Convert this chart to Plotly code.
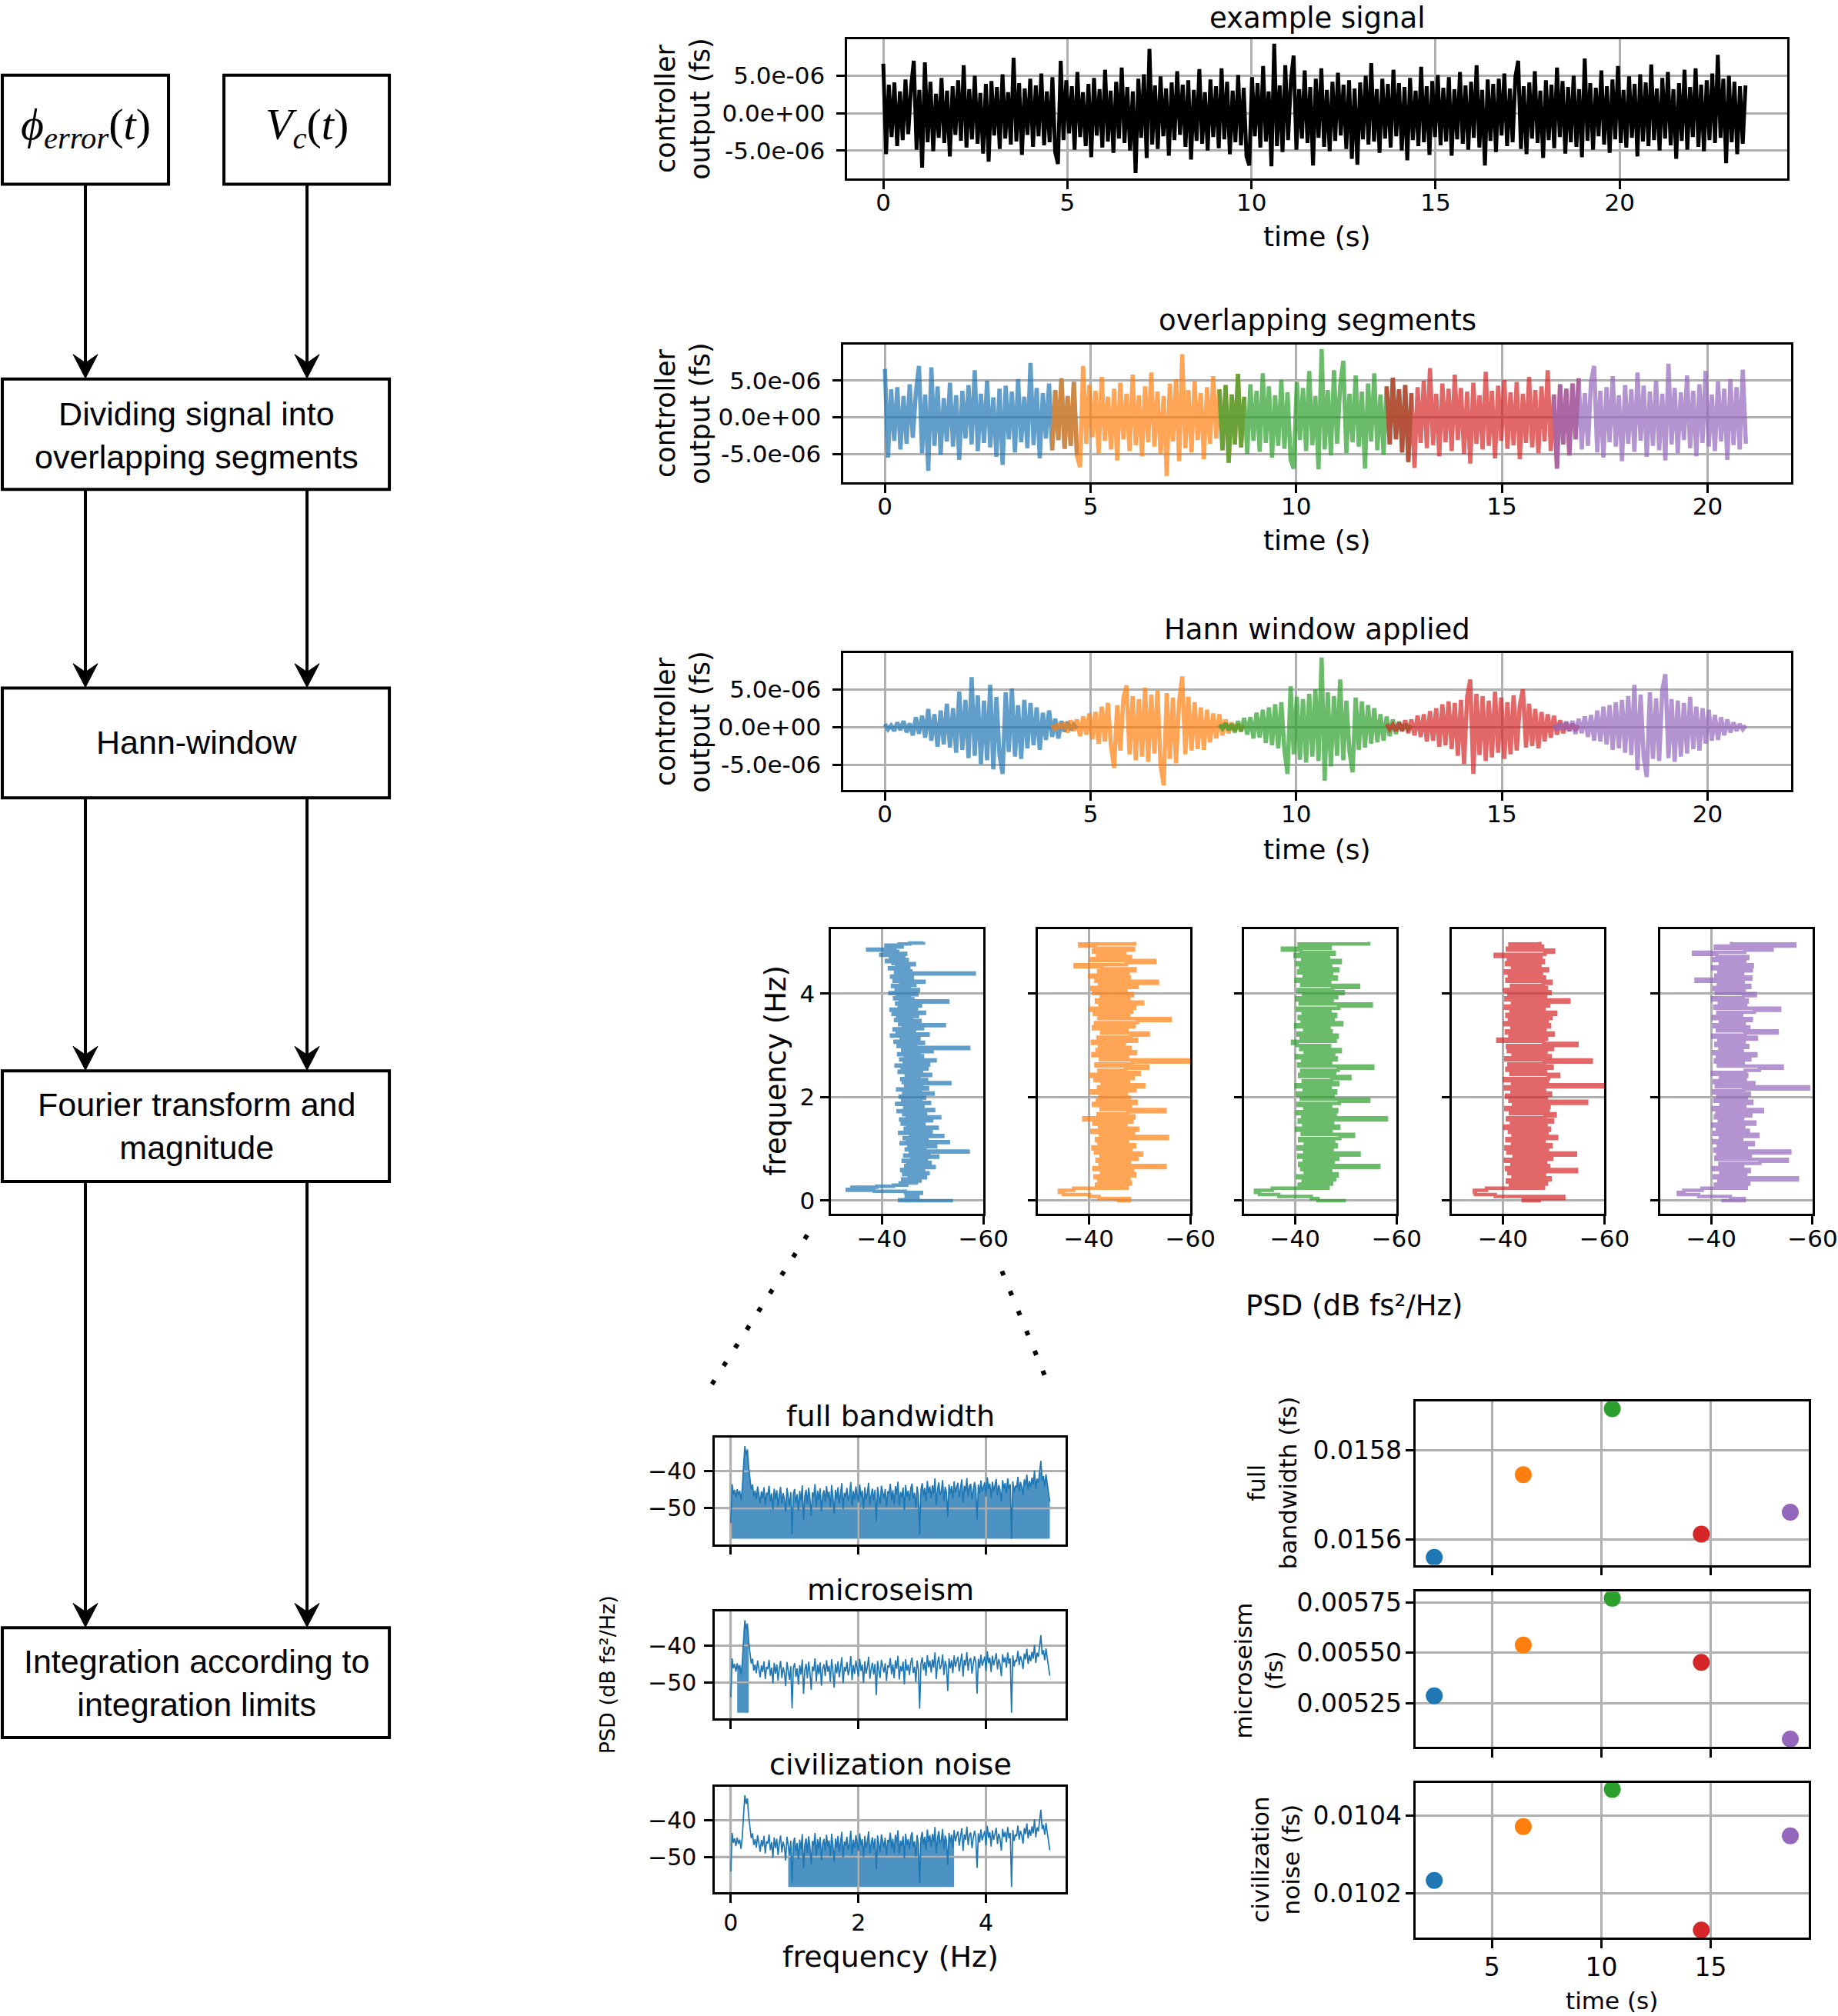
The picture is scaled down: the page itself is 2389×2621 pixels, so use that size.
import numpy as np
import plotly.graph_objects as go

W, H = 2389, 2621
X_SCALE = 0.986   # measured horizontal compression of the rendered page, compensated below

# ---------------- data ----------------
dt = 0.0753          # sample spacing of the controller output (s)
seg_step = 54        # samples between segment starts
seg_len = 63         # samples per segment

# example controller output, units of 1e-6 fs
example_signal = [
    6.6, -5.5, 3.8, -3.2, 4.1, -4.4, 2.9, -3.6, 4.5, -2.8, 3.4, 7.0, -4.9, 3.1, -7.3, 6.8, -3.9, 4.2, -5.1, 2.6,
    -3.3, 4.7, -4.0, 3.0, -5.8, 3.6, -2.9, 4.4, -3.7, 6.4, -4.6, 3.2, -3.5, 5.0, -4.1, 2.7, -5.4, 3.9, -6.5, 4.3,
    -3.0, 3.5, -4.8, 5.2, -3.4, 2.8, -4.2, 7.4, -3.8, 4.0, -5.6, 3.3, -2.9, 4.6, -4.5, 3.7, -3.1, 5.3, -4.3, 2.9,
    -3.9, 4.8, -5.2, -6.8, 7.0, -3.6, 4.4, -2.7, 3.6, -4.9, 5.5, -3.2, 2.8, -4.4, 3.9, -5.9, 4.7, -3.0, 3.2, -4.6,
    5.8, -3.8, 3.0, -5.3, 4.2, -3.4, 6.1, -4.0, 3.5, -5.0, 2.9, -8.0, 4.6, -3.3, 5.2, -6.0, 8.6, -4.2, 3.7, -4.8,
    4.9, -3.1, 3.3, -5.7, 4.1, -3.6, 5.6, -2.9, 3.8, -4.5, 4.4, -6.2, 3.1, -3.7, 5.9, -4.1, 2.8, -5.0, 4.5, -3.2,
    3.6, -4.7, 6.0, -3.5, 4.2, -5.5, 3.0, -3.9, 5.1, -4.3, 3.4, -5.8, -7.0, 4.8, -3.1, 4.0, -4.6, 6.3, -3.8, 2.9,
    -7.1, 9.3, -4.4, 3.7, -5.2, 6.4, -3.6, 4.3, 7.7, -4.9, 3.2, -3.4, 5.7, -4.0, 3.5, -7.0, 4.6, -3.3, 6.0, -4.5,
    3.1, -5.1, 4.2, -3.7, 5.4, -3.0, 3.8, -4.8, 4.4, -6.1, 3.3, -6.9, 4.1, -3.5, 5.0, -4.2, 6.7, -3.8, 3.2, -5.3,
    4.6, -3.4, 3.9, -4.6, 5.8, -3.1, 4.0, -5.0, 3.5, -6.3, 4.7, -3.6, 3.0, -4.4, 6.2, -3.9, 3.6, -5.6, 4.3, -3.2,
    5.1, -4.3, 3.4, -3.8, 4.8, -5.7, 3.2, -3.5, 5.5, -4.1, 3.7, -4.9, 4.2, -3.3, 6.4, -4.6, 3.1, -7.0, 4.5, -3.7,
    3.9, -5.2, 4.6, -3.0, 5.3, -4.4, 3.3, -3.9, 4.9, 7.0, -4.8, 3.6, -5.5, 4.1, -3.4, 5.6, -4.0, 3.0, -6.0, 4.4,
    -3.6, 3.8, -4.7, 6.1, -3.2, 4.3, -5.4, 3.5, -3.9, 5.0, -4.5, 3.2, -5.9, 7.3, -3.7, 4.0, -4.9, 3.4, -3.1, 5.7,
    -4.2, 3.6, -5.3, 4.5, -3.5, 6.3, -4.0, 3.1, -4.6, 4.9, -3.3, 3.9, -5.8, 5.2, -3.8, 4.1, -4.4, 6.5, -3.6, 3.3,
    -5.0, 4.7, -3.4, 5.5, -4.3, 3.2, -6.1, 4.0, -3.7, 5.8, -4.9, 3.5, -3.2, 6.0, -4.5, 3.8, -5.1, 4.4, -3.6, 5.3,
    -4.0, 7.8, -3.3, 4.6, -6.7, 5.0, -3.9, 4.2, -5.5, 3.6, -4.1, 3.7,
]

# Hann-windowed segments, units of 1e-6 fs
hann_seg_1 = [
    0.4, -0.3, 0.2, -0.5, 0.6, -0.4, 0.8, -0.7, 0.5, -1.1, 1.3, -0.9, 1.5, -1.4, 2.4, -1.8, 1.7, -2.6, 2.2, -2.3, 3.1,
    -2.7, 2.5, -3.4, 4.7, -3.0, 3.6, -4.1, 6.6, -3.8, 4.2, -4.9, 3.5, -4.4, 5.6, -5.6, 4.0, -3.7, -6.2, 4.6, -3.3,
    5.1, -3.9, 2.9, -4.2, 3.6, -2.8, 3.2, -2.4, 2.6, -3.0, 1.9, -1.7, 2.2, -1.3, 1.1, -1.5, 0.8, -0.6, 0.7, -0.4, 0.3, -0.2,
]
hann_seg_2 = [
    0.3, -0.4, 0.5, -0.2, 0.6, -0.7, 0.9, -0.5, 1.0, -1.2, 1.4, -1.0, 1.8, -1.6, 2.0, -2.2, 2.7, -1.9, 3.2, -2.5, -5.4,
    2.9, -3.1, 3.8, 5.5, -3.6, 4.1, -4.4, 3.7, -3.9, 5.2, -4.6, 4.3, -3.5, 4.8, -5.0, -7.7, 4.5, -4.2, 3.9, -4.8,
    3.4, 6.7, -3.6, 4.0, -3.1, 3.3, -2.9, 2.6, -3.0, 2.3, -2.0, 1.8, -1.5, 1.7, -1.1, 1.0, -0.8, 0.6, -0.5, 0.4, -0.3, 0.2,
]
hann_seg_3 = [
    0.3, -0.2, 0.5, -0.4, 0.4, -0.7, 0.8, -0.6, 1.2, -1.0, 1.3, -1.5, 1.9, -1.4, 2.3, -2.1, 2.6, -2.4, 3.0, -2.8, 3.3,
    -3.1, -6.2, 5.4, -3.6, 4.0, -4.3, 3.7, -4.7, 4.4, -3.9, 5.0, -4.5, 9.2, -7.1, 4.6, -5.2, 4.1, -3.8, 6.3, -4.4,
    3.5, -3.2, -6.0, 3.9, -3.0, 3.4, -2.7, 2.9, -2.2, 2.5, -2.0, 1.7, -1.8, 1.4, -1.2, 1.0, -0.9, 0.7, -0.5, 0.4, -0.3, 0.2,
]
hann_seg_4 = [
    0.4, -0.3, 0.3, -0.5, 0.6, -0.5, 0.9, -0.8, 1.0, -1.1, 1.5, -1.3, 1.7, -1.9, 2.1, -1.8, 2.5, -2.6, 3.0, -2.4, 3.4,
    -2.9, 3.2, -3.8, 3.6, -4.9, 4.0, 6.3, -6.2, 4.4, -3.7, 4.1, -4.5, 3.5, -4.0, 4.7, -3.4, 3.9, -4.2, 3.3, -3.6,
    4.2, -3.1, 2.9, 5.0, -2.7, 3.1, -2.5, 2.4, -2.8, 2.0, -1.9, 1.7, -1.4, 1.5, -1.0, 0.9, -0.8, 0.6, -0.5, 0.4, -0.3, 0.2,
]
hann_seg_5 = [
    0.3, -0.4, 0.5, -0.3, 0.7, -0.5, 0.8, -0.9, 1.1, -0.8, 1.4, -1.3, 1.6, -1.8, 2.2, -1.9, 2.7, -2.3, 2.9, -3.0, 3.3,
    -2.8, 3.6, -3.4, 4.1, -3.7, 5.6, -5.7, 4.3, -4.0, -6.6, 4.6, -4.2, 3.8, -4.5, 4.9, 7.0, -4.1, 3.7, -4.6, 3.5,
    -3.9, 3.2, -3.5, 4.0, -2.9, 2.7, -3.1, 2.5, -2.2, 2.3, -1.8, 1.6, -1.7, 1.3, -1.1, 1.0, -0.7, 0.6, -0.5, 0.4, -0.3, 0.2,
]
hann_segments = [hann_seg_1, hann_seg_2, hann_seg_3, hann_seg_4, hann_seg_5]

# PSD of segment 1 (dB fs^2/Hz), frequency step 0.02 Hz from 0 to 5 Hz
psd_df_fine = 0.02
psd_seg_1 = [
    -54.0, -43.5, -46.2, -45.0, -47.1, -44.8, -46.5, -45.3, -47.8, -44.6, -38.5, -33.2, -35.6, -34.1, -39.0, -42.3, -44.9, -43.6, -46.8, -45.2, -47.5, -44.1, -46.9, -48.6, -45.4,
    -47.2, -44.3, -49.1, -45.8, -46.4, -43.9, -48.2, -46.0, -50.3, -44.7, -47.6, -45.1, -49.5, -46.3, -44.2, -48.8, -45.9, -47.4, -51.0, -44.5, -46.7, -49.3, -45.6, -57.0, -46.1,
    -44.8, -48.5, -46.2, -50.6, -45.3, -47.9, -43.8, -53.1, -46.6, -45.0, -48.9, -44.4, -47.3, -52.0, -45.7, -46.9, -43.5, -49.7, -45.2, -47.8, -44.6, -50.9, -46.4, -45.1, -48.3,
    -44.0, -47.1, -45.5, -49.8, -43.7, -46.8, -51.4, -45.0, -47.5, -44.3, -48.6, -46.1, -43.2, -50.2, -45.8, -47.0, -44.5, -48.1, -46.5, -42.9, -49.4, -45.3, -47.7, -44.1, -46.3,
    -48.4, -43.6, -46.9, -45.2, -50.1, -44.3, -47.6, -45.8, -43.1, -49.0, -46.2, -44.7, -47.9, -45.0, -53.4, -44.2, -46.6, -48.8, -43.9, -45.7, -47.3, -44.8, -49.6, -45.4, -46.0,
    -43.4, -47.8, -45.1, -48.9, -44.0, -46.3, -42.8, -49.2, -45.6, -47.0, -44.4, -50.5, -43.7, -46.8, -45.2, -48.0, -44.6, -43.3, -47.4, -45.8, -49.9, -44.1, -46.5, -57.1, -45.0,
    -43.2, -46.7, -44.5, -48.2, -42.6, -45.9, -44.1, -47.3, -43.8, -46.0, -41.9, -49.1, -44.8, -43.0, -46.4, -45.3, -42.4, -48.0, -44.2, -45.6, -52.3, -43.5, -46.2, -44.0, -47.5,
    -42.7, -45.8, -44.3, -43.1, -47.0, -44.6, -42.2, -48.4, -43.9, -45.4, -41.8, -46.8, -44.0, -43.4, -47.6, -45.0, -42.9, -44.7, -53.0, -43.6, -46.1, -42.5, -45.5, -44.2, -43.0,
    -46.9, -41.6, -44.8, -43.3, -47.2, -42.8, -45.4, -44.0, -42.1, -46.5, -43.7, -45.1, -48.3, -42.4, -44.6, -43.2, -46.0, -41.9, -44.9, -43.5, -58.2, -42.7, -45.7, -43.9, -44.4,
    -41.5, -45.3, -42.9, -44.1, -46.4, -42.2, -43.8, -40.9, -45.0, -42.6, -44.3, -41.7, -43.6, -39.8, -44.7, -42.0, -43.1, -40.6, -37.2, -42.5, -41.3, -44.0, -40.8, -43.4, -45.5, -48.2,
]

# PSDs of segments 2-5, frequency step 0.04 Hz from 0 to 5 Hz
psd_df_coarse = 0.04
psd_seg_2 = [
    -45.5, -48.0, -42.0, -40.2, -35.0, -34.2, -37.0, -47.5, -41.5, -48.2, -42.0, -47.9, -41.2, -49.0, -42.5, -48.6, -41.0, -55.0, -42.2, -48.0, -41.6, -49.5, -42.4, -50.4, -41.3,
    -48.3, -40.8, -49.0, -42.0, -47.6, -41.5, -55.5, -42.3, -48.8, -40.6, -49.6, -42.1, -47.3, -41.0, -48.5, -39.0, -48.9, -41.8, -47.7, -55.0, -42.4, -48.2, -40.9, -49.3, -41.7,
    -48.0, -42.2, -47.4, -40.5, -49.1, -41.9, -50.8, -42.6, -47.8, -41.2, -48.7, -40.4, -49.9, -42.0, -47.2, -51.6, -41.4, -48.5, -60.0, -42.3, -47.6, -40.8, -49.2, -41.6, -48.1,
    -42.1, -47.0, -40.7, -49.4, -41.8, -48.3, -51.7, -42.5, -47.5, -40.9, -48.9, -41.3, -49.6, -56.0, -42.0, -47.8, -41.1, -48.4, -40.3, -49.0, -42.2, -50.6, -41.5, -47.9, -42.4,
    -48.6, -41.0, -47.3, -40.6, -49.5, -42.1, -53.5, -41.4, -48.0, -40.2, -47.7, -41.9, -49.1, -42.6, -37.3, -47.4, -53.0, -40.5, -48.2, -41.7, -47.1, -40.9, -48.8, -41.2, -38.2, -49.0,
]
psd_seg_3 = [
    -50.0, -44.5, -43.2, -36.8, -33.0, -32.2, -35.5, -46.5, -40.8, -47.2, -41.6, -47.8, -40.5, -48.3, -42.0, -47.0, -41.3, -56.5, -40.9, -47.5, -41.8, -48.4, -40.7, -52.6, -41.9,
    -47.3, -40.6, -48.1, -42.0, -47.6, -40.9, -48.8, -51.5, -41.4, -47.1, -40.3, -48.6, -41.7, -47.4, -40.8, -58.0, -41.5, -47.9, -40.4, -48.2, -41.9, -47.0, -40.6, -48.7, -54.5,
    -41.2, -47.5, -40.5, -48.0, -41.8, -46.9, -40.2, -48.4, -41.6, -47.2, -50.8, -40.9, -47.8, -41.3, -48.5, -55.3, -40.7, -47.0, -41.5, -48.1, -40.3, -47.6, -42.0, -48.9, -41.1,
    -46.8, -40.4, -39.5, -47.9, -41.2, -48.3, -40.6, -47.1, -41.9, -46.7, -40.1, -49.2, -41.4, -47.5, -40.8, -48.0, -41.6, -46.9, -40.5, -48.6, -55.0, -41.0, -47.3, -40.3, -48.2,
    -41.7, -49.5, -40.6, -47.4, -52.5, -41.3, -46.8, -40.2, -48.1, -41.8, -47.2, -40.7, -48.4, -41.1, -47.0, -40.4, -48.9, -41.5, -46.6, -40.0, -47.7, -41.2, -37.5, -46.9, -40.8, -54.5,
]
psd_seg_4 = [
    -47.5, -44.0, -52.0, -38.5, -34.6, -34.4, -36.8, -48.0, -41.5, -48.6, -40.9, -49.3, -42.0, -48.2, -41.2, -54.5, -40.7, -49.0, -41.8, -48.4, -40.5, -49.6, -42.2, -54.3, -41.0,
    -48.8, -40.6, -49.5, -41.9, -48.1, -40.8, -50.6, -42.0, -48.7, -41.3, -49.2, -40.4, -48.5, -41.7, -49.8, -40.9, -48.3, -50.3, -41.5, -48.9, -40.6, -49.1, -42.1, -56.5, -41.4,
    -48.6, -40.7, -49.4, -41.8, -48.2, -40.5, -60.0, -41.9, -48.8, -40.3, -49.0, -51.0, -41.6, -48.4, -40.8, -49.7, -41.2, -48.1, -57.4, -40.6, -49.3, -42.0, -48.5, -41.1, -49.8,
    -40.9, -54.6, -48.0, -39.0, -48.6, -41.4, -49.9, -40.7, -48.3, -41.8, -49.2, -40.4, -48.7, -41.3, -49.5, -40.8, -50.4, -41.6, -48.1, -40.5, -49.0, -41.9, -53.0, -40.6, -48.4,
    -41.2, -49.3, -40.4, -48.6, -41.7, -47.9, -49.5, -40.8, -48.2, -41.3, -47.6, -40.5, -48.8, -41.9, -47.3, -40.7, -48.0, -41.1, -47.5, -38.5, -48.3, -50.0, -40.9, -47.8, -41.4, -47.3,
]
psd_seg_5 = [
    -42.0, -46.5, -43.8, -37.5, -33.5, -34.6, -38.2, -46.9, -40.8, -47.4, -41.5, -57.0, -40.6, -46.8, -41.9, -47.5, -40.4, -46.2, -41.7, -49.6, -55.0, -40.9, -47.7, -41.3, -55.5,
    -40.7, -46.9, -41.4, -48.3, -40.5, -46.0, -41.8, -49.2, -40.6, -47.3, -41.2, -46.4, -40.3, -48.6, -41.6, -46.2, -40.8, -47.8, -41.1, -50.1, -40.4, -46.6, -41.9, -48.0, -40.7,
    -46.9, -41.3, -47.5, -40.5, -46.4, -59.2, -41.0, -48.4, -40.6, -46.7, -41.8, -47.0, -40.2, -46.7, -49.5, -54.0, -41.4, -46.3, -40.8, -47.6, -41.2, -48.8, -40.5, -46.1, -41.7,
    -47.2, -40.9, -46.5, -41.5, -48.9, -40.3, -46.7, -53.0, -41.2, -47.4, -40.6, -46.5, -41.8, -47.9, -40.4, -46.0, -41.3, -48.5, -53.5, -40.7, -46.8, -41.6, -47.1, -40.2, -46.3,
    -48.7, -41.0, -46.5, -40.6, -47.6, -41.4, -46.3, -37.0, -47.8, -40.9, -46.2, -41.5, -47.9, -40.3, -48.1, -41.8, -46.6, -40.5, -47.2, -41.1, -36.5, -46.6, -52.0, -40.8, -56.5, -44.0,
]

# integration limits (Hz)
band_limits = {"full bandwidth": (0.0, 5.0), "microseism": (0.1, 0.285), "civilization noise": (0.9, 3.5)}

# integrated noise per segment
segment_center_t = [2.36, 6.43, 10.50, 14.57, 18.64]
noise_full = [0.015560, 0.015745, 0.015893, 0.015612, 0.015661]
noise_micro = [0.005286, 0.005538, 0.005770, 0.005452, 0.005072]
noise_civ = [0.010233, 0.010372, 0.010468, 0.010105, 0.010348]

flow_steps = ["Dividing signal into<br>overlapping segments", "Hann-window",
              "Fourier transform and<br>magnitude", "Integration according to<br>integration limits"]

tab = ["#1f77b4", "#ff7f0e", "#2ca02c", "#d62728", "#9467bd"]

# ---------------- helpers ----------------
def fx(px):
    return min(1.0, max(0.0, px / (W * X_SCALE)))


def fy(py):
    return 1 - py / H


fig = go.Figure()
layout_axes = {}
FONT = "DejaVu Sans"


def axname(n):
    return ("x" if n == 1 else f"x{n}"), ("y" if n == 1 else f"y{n}")


def add_axes(n, box, xr, yr, xt, xtt, yt, ytt, showx=True, showy=True, fsize=31, xso=0, yso=4):
    x0, x1, yt0, yb = box
    common = dict(showline=True, mirror=True, linecolor="black", linewidth=2.5,
                  ticks="outside", ticklen=11, tickwidth=2.5, tickcolor="black",
                  showgrid=True, gridcolor="#b0b0b0", gridwidth=2.5, zeroline=False,
                  tickfont=dict(family=FONT, size=fsize, color="black"), fixedrange=True)
    xn, yn = axname(n)
    layout_axes["xaxis" if n == 1 else f"xaxis{n}"] = dict(
        domain=[fx(x0), fx(x1)], anchor=yn, range=xr, tickmode="array", tickvals=xt, ticktext=xtt,
        showticklabels=showx, ticklabelstandoff=xso, **common)
    layout_axes["yaxis" if n == 1 else f"yaxis{n}"] = dict(
        domain=[fy(yb), fy(yt0)], anchor=xn, range=yr, tickmode="array", tickvals=yt, ticktext=ytt,
        showticklabels=showy, ticklabelstandoff=yso, **common)


sig = np.array(example_signal) * 1e-6
t = np.arange(len(sig)) * dt

ts_xt = [0, 5, 10, 15, 20]
ts_xtt = ["0", "5", "10", "15", "20"]
ts_yt = [-5e-6, 0, 5e-6]
ts_ytt = ["-5.0e-06", "0.0e+00", "5.0e-06"]
TS_W = 5.5

# panel 1: example signal
add_axes(1, (1101, 2323, 45, 227), [-0.98, 24.56], [-8.78e-6, 9.9e-6], ts_xt, ts_xtt, ts_yt, ts_ytt,
         xso=-9, yso=9)
fig.add_trace(go.Scatter(x=t, y=sig, mode="lines", line=dict(color="black", width=TS_W - 0.5),
                         xaxis="x", yaxis="y"))

# panel 2: overlapping segments
add_axes(2, (1096, 2328, 443, 623), [-1.01, 22.04], [-8.9e-6, 9.93e-6], ts_xt, ts_xtt, ts_yt, ts_ytt,
         xso=-9, yso=9)
for k in range(5):
    s = slice(k * seg_step, k * seg_step + seg_len)
    fig.add_trace(go.Scatter(x=t[s], y=sig[s], mode="lines", opacity=0.7,
                             line=dict(color=tab[k], width=TS_W), xaxis="x2", yaxis="y2"))

# panel 3: Hann window applied
add_axes(3, (1096, 2328, 845, 1024), [-1.01, 22.04], [-8.35e-6, 9.83e-6], ts_xt, ts_xtt, ts_yt, ts_ytt,
         xso=-9, yso=9)
for k in range(5):
    s = slice(k * seg_step, k * seg_step + seg_len)
    fig.add_trace(go.Scatter(x=t[s], y=np.array(hann_segments[k]) * 1e-6, mode="lines", opacity=0.7,
                             line=dict(color=tab[k], width=TS_W), xaxis="x3", yaxis="y3"))

# panels 4-8: PSD per segment (rotated)
f_fine = np.arange(len(psd_seg_1)) * psd_df_fine
f_coarse = np.arange(len(psd_seg_2)) * psd_df_coarse
psd_list = [(f_fine, psd_seg_1), (f_coarse, psd_seg_2), (f_coarse, psd_seg_3),
            (f_coarse, psd_seg_4), (f_coarse, psd_seg_5)]
vboxes = [(1080, 1278), (1349, 1547), (1617, 1815), (1887, 2085), (2158, 2356)]
for k in range(5):
    n = 4 + k
    add_axes(n, (vboxes[k][0], vboxes[k][1], 1205, 1576), [-30, -60], [-0.25, 5.25],
             [-40, -60], ["\u221240", "\u221260"], [0, 2, 4], ["0", "2", "4"], showy=(k == 0),
             xso=-8, yso=1)
    xn, yn = axname(n)
    fk, pk = psd_list[k]
    fig.add_trace(go.Scatter(x=pk, y=fk, mode="lines", opacity=0.7,
                             line=dict(color=tab[k], width=4.5, shape="hv"),
                             xaxis=xn, yaxis=yn))

# panels 9-11: integration of PSD over bands
psd_arr = np.array(psd_seg_1)
base = psd_arr.min()
b_xr = [-0.25, 5.25]
b_yr = [-59.7, -30.9]
b_xt = [0, 2, 4]
b_yt = [-50, -40]
bboxes = [(929, 1385, 1868, 2007), (929, 1385, 2095, 2234), (929, 1385, 2323, 2461)]
for j, (name, (lo, hi)) in enumerate(band_limits.items()):
    n = 9 + j
    add_axes(n, bboxes[j], b_xr, b_yr, b_xt, ["0", "2", "4"], b_yt, ["\u221250", "\u221240"],
             showx=(j == 2), fsize=30, xso=0, yso=4)
    xn, yn = axname(n)
    m = (f_fine >= lo - 1e-9) & (f_fine <= hi + 1e-9)
    fx_band = f_fine[m]
    poly_x = np.concatenate([fx_band, fx_band[::-1]])
    poly_y = np.concatenate([psd_arr[m], np.full(m.sum(), base)])
    fig.add_trace(go.Scatter(x=poly_x, y=poly_y, mode="lines", fill="toself",
                             fillcolor="rgba(31,119,180,0.8)", line=dict(width=0),
                             xaxis=xn, yaxis=yn))
    # grid drawn over the fill (as matplotlib does)
    for xv in b_xt:
        fig.add_trace(go.Scatter(x=[xv, xv], y=b_yr, mode="lines",
                                 line=dict(color="#b0b0b0", width=2.5), xaxis=xn, yaxis=yn))
    for yv in b_yt:
        fig.add_trace(go.Scatter(x=b_xr, y=[yv, yv], mode="lines",
                                 line=dict(color="#b0b0b0", width=2.5), xaxis=xn, yaxis=yn))
    fig.add_trace(go.Scatter(x=f_fine, y=psd_arr, mode="lines",
                             line=dict(color="#1f77b4", width=1.7), xaxis=xn, yaxis=yn))

# panels 12-14: integrated noise per segment
s_xr = [1.52, 19.5]
s_xt = [5, 10, 15]
scat = [(noise_full, [0.015543, 0.015909], [0.0156, 0.0158], ["0.0156", "0.0158"], (1840, 2351, 1821, 2034)),
        (noise_micro, [0.005034, 0.005802], [0.00525, 0.0055, 0.00575], ["0.00525", "0.00550", "0.00575"], (1840, 2351, 2069, 2271)),
        (noise_civ, [0.010085, 0.010485], [0.0102, 0.0104], ["0.0102", "0.0104"], (1840, 2351, 2318, 2520))]
for j, (vals, yr, yt, ytt, box) in enumerate(scat):
    n = 12 + j
    add_axes(n, box, s_xr, yr, s_xt, ["5", "10", "15"], yt, ytt, showx=(j == 2), fsize=33,
             xso=-4, yso=-2)
    xn, yn = axname(n)
    fig.add_trace(go.Scatter(x=segment_center_t, y=vals, mode="markers",
                             marker=dict(color=tab, size=22, line=dict(width=0)),
                             xaxis=xn, yaxis=yn))

# ---------------- text ----------------
def ann(text, x, y, size, angle=0, family=FONT):
    return dict(text=text, x=fx(x), y=fy(y), xref="paper", yref="paper", showarrow=False,
                font=dict(family=family, size=size, color="black"), textangle=angle,
                xanchor="center", yanchor="middle")


annotations = [
    ann("example signal", 1712, 18, 37),
    ann("overlapping segments", 1712, 412, 37),
    ann("Hann window applied", 1712, 815, 37),
    ann("time (s)", 1712, 302, 36),
    ann("time (s)", 1712, 698, 36),
    ann("time (s)", 1712, 1101, 36),
    ann("controller<br>output (fs)", 887, 136, 35, -90),
    ann("controller<br>output (fs)", 887, 533, 35, -90),
    ann("controller<br>output (fs)", 887, 935, 35, -90),
    ann("frequency (Hz)", 1008, 1390, 37, -90),
    ann("PSD (dB fs\u00b2/Hz)", 1760, 1696, 37),
    ann("full bandwidth", 1157, 1840, 38),
    ann("microseism", 1157, 2067, 38),
    ann("civilization noise", 1157, 2294, 38),
    ann("frequency (Hz)", 1157, 2545, 38),
    ann("PSD (dB fs\u00b2/Hz)", 789, 2177, 27, -90),
    ann("full<br>bandwidth (fs)", 1653, 1927, 31, -90),
    ann("microseism<br>(fs)", 1636, 2172, 31, -90),
    ann("civilization<br>noise (fs)", 1657, 2418, 31, -90),
    ann("time (s)", 2095, 2602, 31),
]

SANS = "Liberation Sans"
SERIF = "Liberation Serif, DejaVu Serif"
annotations.append(ann("<i>\u03d5</i><sub><i>error</i></sub>(<i>t</i>)", 111, 160, 58, family=SERIF))
annotations.append(ann("<i>V</i><sub><i>c</i></sub>(<i>t</i>)", 399, 160, 58, family=SERIF))
step_centers = [561, 962, 1462, 2188]
for txt, cy in zip(flow_steps, step_centers):
    annotations.append(ann(txt, 255, cy, 43, family=SANS))

# ---------------- flowchart shapes ----------------
shapes = []
boxes = [(3, 92, 219, 234), (291, 92, 506, 234), (3, 488, 506, 632),
         (3, 891, 506, 1034), (3, 1390, 506, 1534), (3, 2116, 506, 2259)]
for (x0, y0, x1, y1) in boxes:
    shapes.append(dict(type="rect", xref="paper", yref="paper", x0=fx(x0), x1=fx(x1),
                       y0=fy(y1), y1=fy(y0), line=dict(color="black", width=4)))

arrow_x = [111, 399]
arrow_spans = [(234, 488), (632, 891), (1034, 1390), (1534, 2116)]
for ax in arrow_x:
    for (ys, ye) in arrow_spans:
        shapes.append(dict(type="line", xref="paper", yref="paper", x0=fx(ax), x1=fx(ax),
                           y0=fy(ys), y1=fy(ye - 12), line=dict(color="black", width=4)))
        tip = ye - 1
        pts = [(ax, tip), (ax - 16, tip - 31), (ax, tip - 20), (ax + 16, tip - 31)]
        path = "M " + " L ".join(f"{fx(px):.6f},{fy(py):.6f}" for px, py in pts) + " Z"
        shapes.append(dict(type="path", xref="paper", yref="paper", path=path,
                           fillcolor="black", line=dict(color="black", width=1)))

# dotted zoom lines
for (xa, ya, xb, yb) in [(1049, 1604, 921, 1805), (1302, 1651, 1365, 1805)]:
    shapes.append(dict(type="line", xref="paper", yref="paper", x0=fx(xa), y0=fy(ya),
                       x1=fx(xb), y1=fy(yb), line=dict(color="black", width=6, dash="6px,22px")))

fig.update_layout(
    width=W, height=H, margin=dict(l=0, r=0, t=0, b=0),
    paper_bgcolor="white", plot_bgcolor="white", showlegend=False,
    font=dict(family=FONT, color="black"),
    annotations=annotations, shapes=shapes, hovermode=False,
    **layout_axes,
)

fig.write_html("out.html", config={"displayModeBar": False},
               post_script="document.body.style.margin='0px';document.body.style.overflow='hidden';")
